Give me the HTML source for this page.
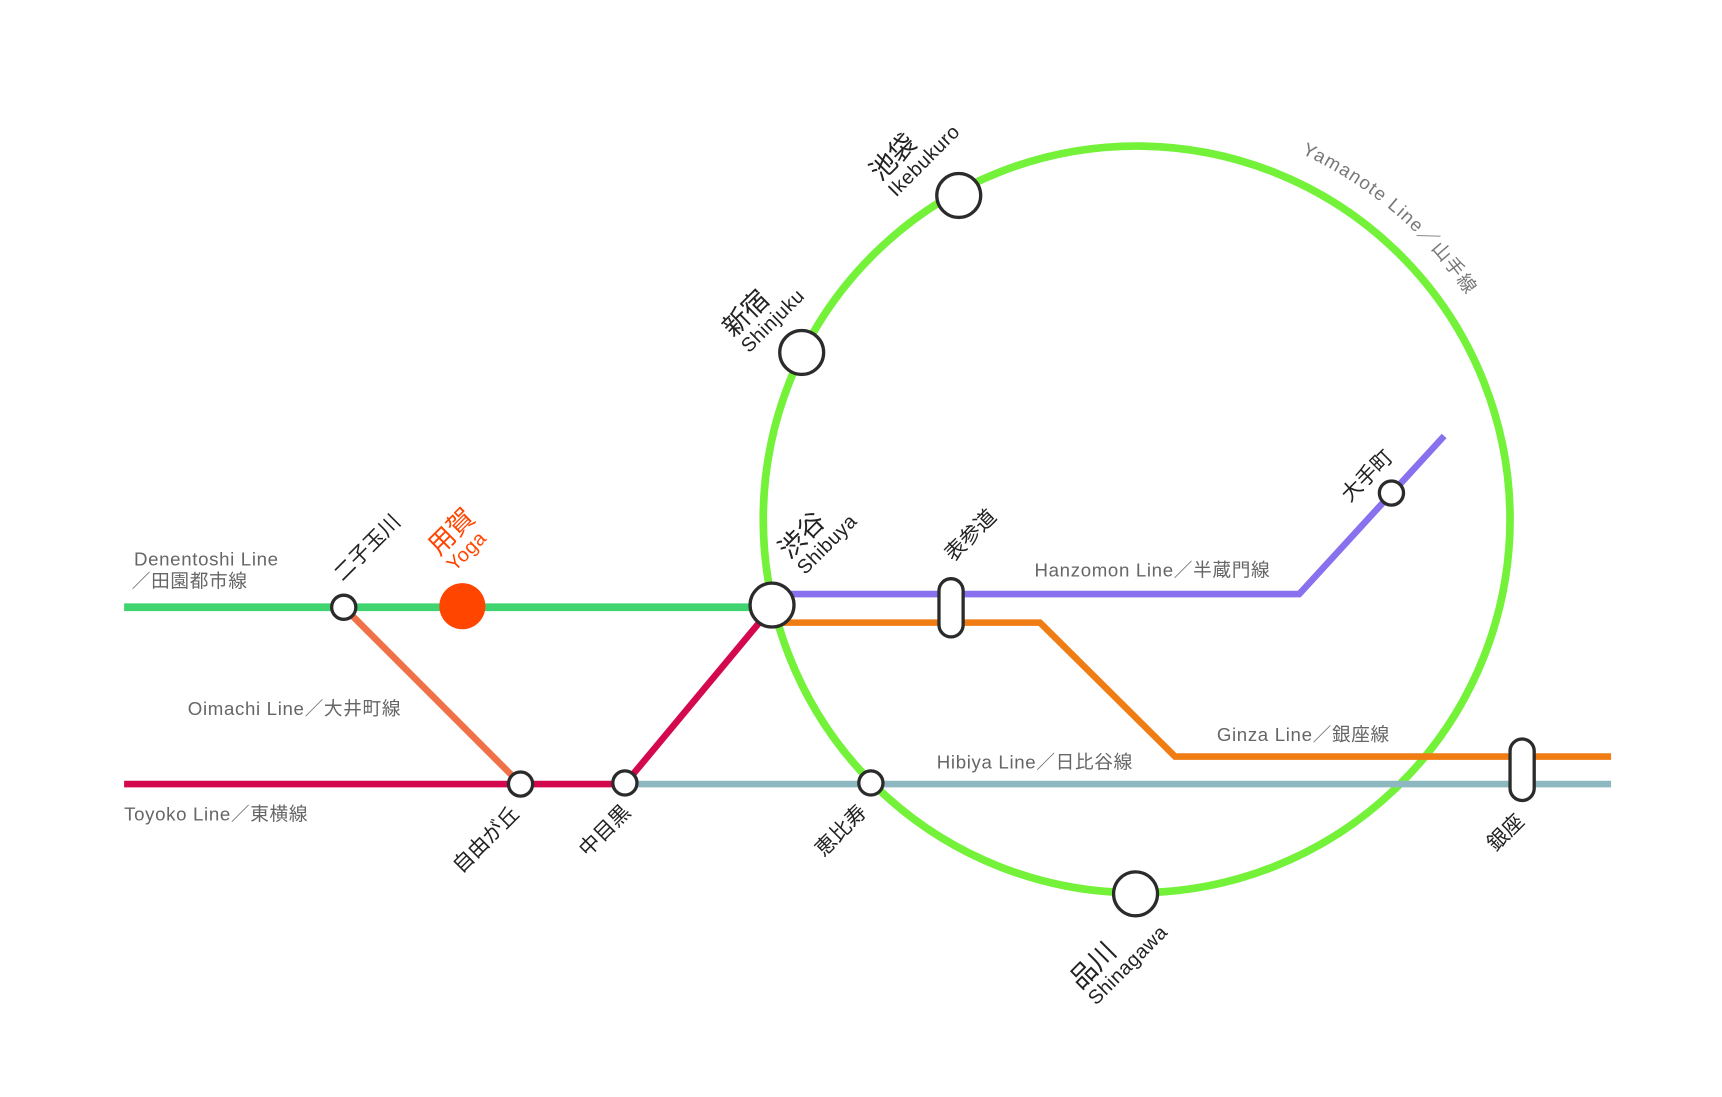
<!DOCTYPE html>
<html><head><meta charset="utf-8"><style>
html,body{margin:0;padding:0;background:#fff;}
svg{display:block;}
text{font-family:"Liberation Sans","Noto Sans CJK JP",sans-serif;}
.ln{fill:#666;font-size:17px;letter-spacing:0.6px;}
.st{fill:#222;font-size:19px;}
.big{fill:#222;font-size:24px;}
.rom{fill:#222;font-size:18px;letter-spacing:0.5px;}
.s{fill:#fff;stroke:#2b2b2b;stroke-width:3;}
</style></head><body>
<svg width="1722" height="1097" viewBox="0 0 1568 999" preserveAspectRatio="none" xmlns="http://www.w3.org/2000/svg">
<circle cx="1035" cy="473" r="340" fill="none" stroke="#74f23a" stroke-width="7"/>
<path id="ya" d="M1185 140 A362 362 0 0 1 1385 380" fill="none"/>
<text class="ln" style="fill:#777;letter-spacing:1.2px"><textPath href="#ya">Yamanote Line／山手線</textPath></text>
<polyline points="703,541 1183,541 1315,397" fill="none" stroke="#8870ee" stroke-width="6"/>
<polyline points="703,567 947,567 1070,689 1467,689" fill="none" stroke="#f07c14" stroke-width="6"/>
<line x1="569" y1="714" x2="1467" y2="714" stroke="#8db8c0" stroke-width="6"/>
<line x1="113" y1="553" x2="703" y2="553" stroke="#3fd46f" stroke-width="7"/>
<polyline points="113,714 569,714 703,553" fill="none" stroke="#d4084f" stroke-width="6"/>
<line x1="313" y1="553" x2="474" y2="714" stroke="#f07048" stroke-width="6"/>
<circle class="s" cx="313" cy="553" r="11"/>
<circle cx="421" cy="552" r="21" fill="#ff4500"/>
<circle class="s" cx="703" cy="551" r="20"/>
<rect class="s" x="855" y="527" width="22" height="53" rx="11"/>
<rect class="s" x="1375" y="673" width="22" height="56" rx="11"/>
<circle class="s" cx="1267" cy="449" r="11"/>
<circle class="s" cx="474" cy="714" r="11"/>
<circle class="s" cx="569" cy="713" r="11"/>
<circle class="s" cx="793" cy="713" r="11"/>
<circle class="s" cx="1034" cy="814" r="20"/>
<circle class="s" cx="730" cy="321" r="20"/>
<circle class="s" cx="873" cy="178" r="20"/>
<text class="ln" x="122" y="515">Denentoshi Line</text>
<text class="ln" x="120" y="535">／田園都市線</text>
<text class="ln" x="171" y="651">Oimachi Line／大井町線</text>
<text class="ln" x="113" y="747">Toyoko Line／東横線</text>
<text class="ln" x="942" y="525">Hanzomon Line／半蔵門線</text>
<text class="ln" x="1108" y="675">Ginza Line／銀座線</text>
<text class="ln" x="853" y="700">Hibiya Line／日比谷線</text>
<g transform="translate(816,180) rotate(-45)"><text class="big" x="0" y="-20">池袋</text><text class="rom" x="0" y="0">Ikebukuro</text></g>
<g transform="translate(682,322) rotate(-45)"><text class="big" x="0" y="-20">新宿</text><text class="rom" x="0" y="0">Shinjuku</text></g>
<g transform="translate(733,524) rotate(-45)"><text class="big" x="0" y="-20">渋谷</text><text class="rom" x="0" y="0">Shibuya</text></g>
<g transform="translate(998,916) rotate(-45)"><text class="big" x="0" y="-20">品川</text><text class="rom" x="0" y="0">Shinagawa</text></g>
<g transform="translate(414,521) rotate(-45)"><text class="big" x="0" y="-20" style="fill:#ff4500">用賀</text><text class="rom" x="0" y="0" style="fill:#ff4500">Yoga</text></g>
<g transform="translate(312,530) rotate(-45)"><text class="st" x="0" y="0">二子玉川</text></g>
<g transform="translate(868,512) rotate(-45)"><text class="st" x="0" y="0">表参道</text></g>
<g transform="translate(1229,458) rotate(-45)"><text class="st" x="0" y="0">大手町</text></g>
<g transform="translate(420,796) rotate(-45)"><text class="st" x="0" y="0">自由が丘</text></g>
<g transform="translate(535,781) rotate(-45)"><text class="st" x="0" y="0">中目黒</text></g>
<g transform="translate(750,781) rotate(-45)"><text class="st" x="0" y="0">恵比寿</text></g>
<g transform="translate(1362,776) rotate(-45)"><text class="st" x="0" y="0">銀座</text></g>
</svg>
</body></html>
